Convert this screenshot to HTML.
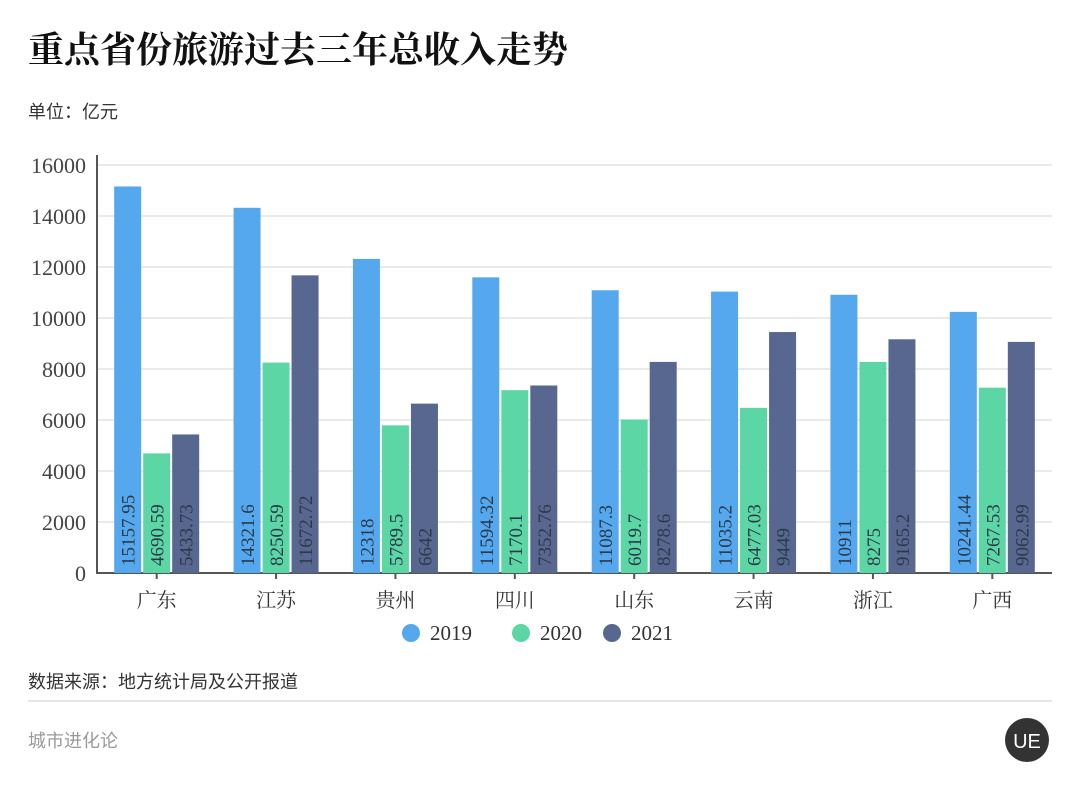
<!DOCTYPE html>
<html><head><meta charset="utf-8"><style>
body{margin:0;width:1080px;height:787px;background:#fff;overflow:hidden;font-family:"Liberation Serif","Noto Serif CJK SC",serif;}
</style></head><body>
<svg width="1080" height="787" id="c">
<text x="28" y="62" font-size="36" font-weight="bold" fill="#111" font-family="'Liberation Serif','Noto Serif CJK SC',serif">重点省份旅游过去三年总收入走势</text>
<text x="28" y="118" font-size="18" fill="#333" font-family="'Liberation Sans','Noto Sans CJK SC',sans-serif">单位：亿元</text>
<g id="plot"></g>
<text x="28" y="688" font-size="18" fill="#333" font-family="'Liberation Sans','Noto Sans CJK SC',sans-serif">数据来源：地方统计局及公开报道</text>
<line x1="28" y1="701" x2="1052" y2="701" stroke="#ccc"/>
<text x="28" y="747" font-size="18" fill="#999" font-family="'Liberation Sans','Noto Sans CJK SC',sans-serif">城市进化论</text>
<circle cx="1027" cy="740" r="22" fill="#333"/>
<text x="1027" y="748" font-size="20" fill="#fff" text-anchor="middle" font-family="'Liberation Sans',sans-serif">UE</text>
</svg>
<script>
const categories=["广东","江苏","贵州","四川","山东","云南","浙江","广西"];
const s2019=[15157.95,14321.6,12318,11594.32,11087.3,11035.2,10911,10241.44];
const s2020=[4690.59,8250.59,5789.5,7170.1,6019.7,6477.03,8275,7267.53];
const s2021=[5433.73,11672.72,6642,7352.76,8278.6,9449,9165.2,9062.99];
const labels2019=["15157.95","14321.6","12318","11594.32","11087.3","11035.2","10911","10241.44"];
const labels2020=["4690.59","8250.59","5789.5","7170.1","6019.7","6477.03","8275","7267.53"];
const labels2021=["5433.73","11672.72","6642","7352.76","8278.6","9449","9165.2","9062.99"];
const yTicks=[0,2000,4000,6000,8000,10000,12000,14000,16000];
const seriesNames=["2019","2020","2021"];
const colors=["#55a8ee","#5dd6a6","#58678f"];
const NS="http://www.w3.org/2000/svg";
const g=document.getElementById('plot');
const x0=97,x1=1052,y0=573,yTop=165,ymax=16000;
const y=v=>y0-(v/ymax)*(y0-yTop);
const band=(x1-x0)/categories.length;
const xc=i=>x0+band*(i+0.5);
function el(t,a){const e=document.createElementNS(NS,t);for(const k in a)e.setAttribute(k,a[k]);g.appendChild(e);return e;}
yTicks.forEach(t=>{
 const l=el('line',{x1:x0,x2:x1,y1:y(t),y2:y(t),stroke:t?'#ddd':'#555','stroke-width':t?1.2:2});
 
 
 const tx=el('text',{x:86,y:y(t)+8,'font-size':22,fill:'#444','text-anchor':'end'});
 tx.textContent=t;
 
 
});
el('line',{x1:x0,x2:x0,y1:155,y2:574,stroke:'#555','stroke-width':2});
const series=[s2019,s2020,s2021],labs=[labels2019,labels2020,labels2021];
const bw=27,gap=2;
categories.forEach((c,i)=>{
 series.forEach((s,j)=>{
  const bx=xc(i)+(j-1)*(bw+gap)-bw/2;
  const r=el('rect',{x:bx,y:y(s[i]),width:bw,height:y0-y(s[i]),fill:colors[j]});
  
  
  const t=el('text',{x:0,y:0,'font-size':19,fill:'#2b3a4a',transform:`translate(${bx+bw/2+7},${y0-7}) rotate(-90)`});
  t.textContent=labs[j][i];
  
  
 });
 el('line',{x1:xc(i),x2:xc(i),y1:y0,y2:y0+6,stroke:'#555','stroke-width':2});
 const t=el('text',{x:xc(i),y:607,'font-size':20,fill:'#333','text-anchor':'middle'});
 t.textContent=c;
 
 
});
const lx=[411,521,612];
seriesNames.forEach((n,j)=>{
 const c=el('circle',{cx:lx[j],cy:633,r:9,fill:colors[j]});
 
 
 const t=el('text',{x:lx[j]+19,y:640,'font-size':21,fill:'#333'});
 t.textContent=n;
 
 
});
</script>
</body></html>
